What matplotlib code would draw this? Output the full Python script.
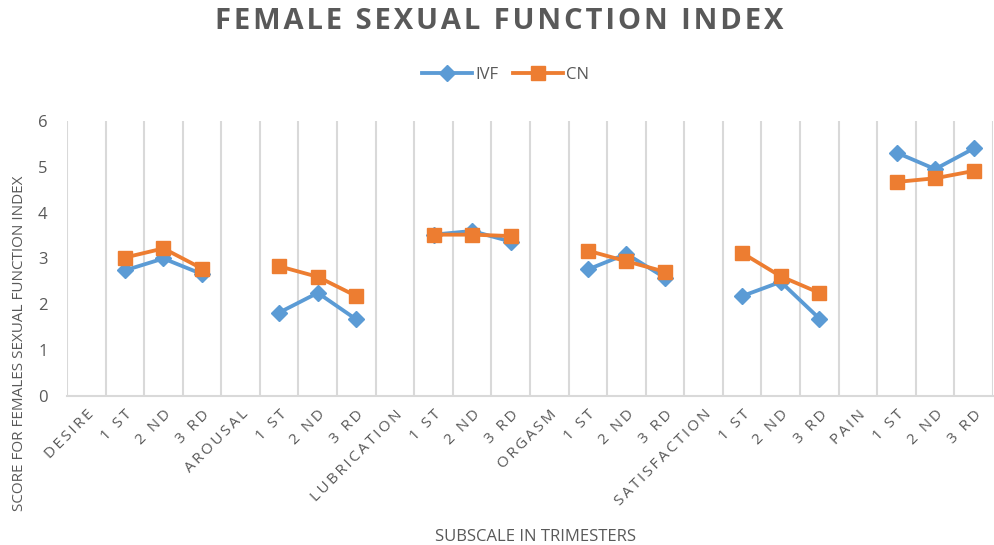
import numpy as np
import matplotlib.pyplot as plt

plt.rcParams['font.family'] = ['Open Sans', 'DejaVu Sans']

subscales = ['DESIRE', 'AROUSAL', 'LUBRICATION', 'ORGASM', 'SATISFACTION', 'PAIN']
trimesters = ['1 ST', '2 ND', '3 RD']

# scores per subscale, 1st / 2nd / 3rd trimester
ivf = [
    [2.74, 3.00, 2.66],
    [1.82, 2.25, 1.67],
    [3.52, 3.60, 3.37],
    [2.76, 3.10, 2.58],
    [2.18, 2.49, 1.69],
    [5.31, 4.95, 5.40],
]
cn = [
    [3.02, 3.22, 2.78],
    [2.83, 2.60, 2.18],
    [3.52, 3.52, 3.49],
    [3.17, 2.94, 2.71],
    [3.12, 2.61, 2.25],
    [4.67, 4.75, 4.91],
]


def spaced(s, sep='\u2009'):
    # Excel-like letter spacing
    return sep.join(s)


# flatten: subscale heading (no value) followed by its three trimesters
labels, ivf_y, cn_y = [], [], []
for name, a, b in zip(subscales, ivf, cn):
    labels += [name] + trimesters
    ivf_y += [np.nan] + a
    cn_y += [np.nan] + b
x = np.arange(len(labels))

txt = '#595959'
blue = '#5B9BD5'
orange = '#ED7D31'

fig = plt.figure(figsize=(9.95, 5.45), dpi=100)
ax = fig.add_axes([0.0673, 0.2734, 0.9307, 0.5046])

ax.plot(x, ivf_y, color=blue, lw=2.75, marker='D', ms=8, label='IVF', zorder=3)
ax.plot(x, cn_y, color=orange, lw=2.75, marker='s', ms=10, label='CN', zorder=4)

ax.set_xlim(-0.5, len(labels) - 0.5)
ax.set_ylim(0, 6)
ax.set_yticks(range(0, 7))

# vertical gridlines between categories
ax.set_xticks(np.arange(-0.5, len(labels)), minor=False)
ax.set_xticklabels([])
ax.tick_params(axis='x', length=0)
ax.grid(axis='x', color='#D9D9D9', lw=1.5, zorder=0)
ax.set_xticks(x, minor=True)
ax.set_xticklabels([spaced(l) for l in labels], minor=True, rotation=45,
                   ha='right', va='top', rotation_mode='anchor',
                   fontsize=11, color=txt)
ax.tick_params(axis='x', which='minor', length=0, pad=8)

ax.tick_params(axis='y', length=0, pad=14, labelsize=12, labelcolor=txt)
for s in ['top', 'right', 'left']:
    ax.spines[s].set_visible(False)
ax.spines['bottom'].set_color('#D9D9D9')
ax.spines['bottom'].set_linewidth(1.5)

fig.text(0.502, 0.96, spaced('FEMALE SEXUAL FUNCTION INDEX', '\u200a'),
         ha='center', va='center', fontsize=21, fontweight='bold', color=txt)
fig.text(0.02, 0.37, 'SCORE FOR FEMALES SEXUAL FUNCTION INDEX', rotation=90,
         ha='center', va='center', fontsize=11, color=txt)
fig.text(0.538, 0.015, 'SUBSCALE IN TRIMESTERS', ha='center', va='center',
         fontsize=12, color=txt)

fig.legend(loc='center', bbox_to_anchor=(0.508, 0.862), ncol=2, frameon=False,
           fontsize=12, labelcolor=txt, handlelength=3, columnspacing=0.9,
           handletextpad=0.15)

fig.savefig('out.png', dpi=100)
